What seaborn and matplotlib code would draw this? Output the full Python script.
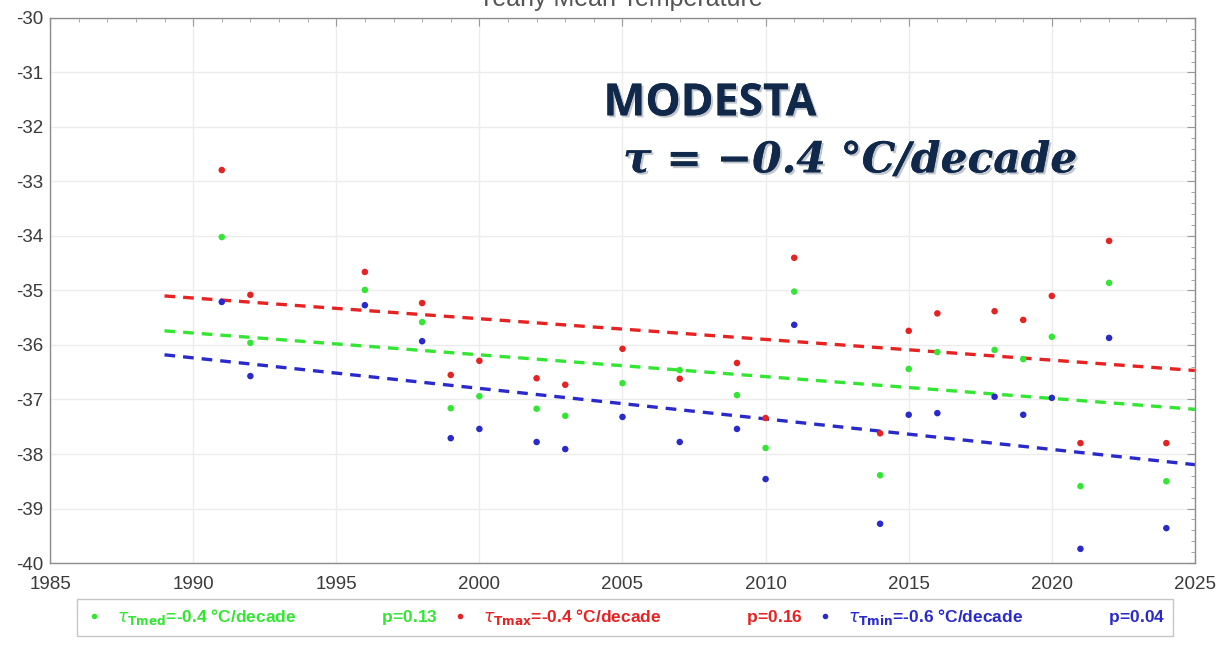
import numpy as np
import pandas as pd
import matplotlib
matplotlib.use("Agg")
import matplotlib.pyplot as plt
import matplotlib.patheffects as pe
from matplotlib.lines import Line2D
from matplotlib.ticker import MultipleLocator
import seaborn as sns

# Yearly mean air temperature at MODESTA (°C)
years = [1991, 1992, 1996, 1998, 1999, 2000, 2002, 2003, 2005, 2007, 2009,
         2010, 2011, 2014, 2015, 2016, 2018, 2019, 2020, 2021, 2022, 2024]
t_max = [-32.79, -35.08, -34.66, -35.23, -36.55, -36.29, -36.61, -36.73, -36.07, -36.62, -36.33,
         -37.34, -34.40, -37.62, -35.74, -35.42, -35.38, -35.54, -35.10, -37.80, -34.09, -37.80]
t_med = [-34.02, -35.96, -34.99, -35.58, -37.16, -36.94, -37.17, -37.30, -36.70, -36.46, -36.92,
         -37.89, -35.02, -38.39, -36.44, -36.13, -36.09, -36.26, -35.85, -38.59, -34.86, -38.50]
t_min = [-35.21, -36.57, -35.27, -35.93, -37.71, -37.54, -37.78, -37.91, -37.32, -37.78, -37.54,
         -38.46, -35.63, -39.28, -37.28, -37.25, -36.95, -37.28, -36.97, -39.74, -35.87, -39.36]

# Trend lines: value at 1989 and slope (°C/decade), with p-values
series_names = ["Tmed", "Tmax", "Tmin"]
trend_start = {"Tmed": -35.74, "Tmax": -35.10, "Tmin": -36.18}
trend_slope = {"Tmed": -0.40, "Tmax": -0.38, "Tmin": -0.56}
p_values = {"Tmed": 0.13, "Tmax": 0.16, "Tmin": 0.04}
trend_years = [1989, 2025]

colors = {"Tmed": "#33e633", "Tmax": "#e62222", "Tmin": "#2a2acc"}

sns.set_style("white")
plt.rcParams["font.family"] = ["Liberation Sans", "DejaVu Sans"]

df = pd.DataFrame({
    "year": years * 3,
    "temp": t_med + t_max + t_min,
    "series": ["Tmed"] * len(years) + ["Tmax"] * len(years) + ["Tmin"] * len(years),
})

trend_rows = []
for s in series_names:
    for y in trend_years:
        trend_rows.append({"year": y, "temp": trend_start[s] + trend_slope[s] * (y - trend_years[0]) / 10.0,
                           "series": s})
trend = pd.DataFrame(trend_rows)

fig = plt.figure(figsize=(12.29, 6.49), dpi=100)
ax = fig.add_axes([0.0407, 0.1325, 0.9316, 0.8398])

for s in series_names:
    sns.lineplot(data=trend[trend.series == s], x="year", y="temp", color=colors[s],
                 linewidth=2.4, ax=ax, dashes=False, zorder=2)
    ax.lines[-1].set_dashes([3.2, 2.4])
    sns.scatterplot(data=df[df.series == s], x="year", y="temp", color=colors[s],
                    s=22, edgecolor="none", ax=ax, zorder=3)

ax.set_xlim(1985, 2025)
ax.set_ylim(-40, -30)
ax.xaxis.set_major_locator(MultipleLocator(5))
ax.xaxis.set_minor_locator(MultipleLocator(1))
ax.yaxis.set_major_locator(MultipleLocator(1))
ax.yaxis.set_minor_locator(MultipleLocator(0.2))
ax.grid(True, which="major", color="#ececec", linewidth=1.0)
ax.set_axisbelow(True)
ax.tick_params(which="both", direction="in", top=True, right=True, colors="#9a9a9a",
               labelcolor="#3a3a3a", labelsize=13.5)
ax.tick_params(which="major", length=6, width=0.8)
ax.tick_params(which="minor", length=3, width=0.6)
ax.tick_params(axis="x", pad=9)
ax.tick_params(axis="y", pad=5)
for sp in ax.spines.values():
    sp.set_color("#8c8c8c")
    sp.set_linewidth(1.0)
ax.set_xlabel("")
ax.set_ylabel("")
ax.set_yticks(np.arange(-40, -29, 1))
ax.set_yticklabels([str(v) for v in range(-40, -29)])

# Chart title at the very top edge (runs past the figure border)
fig.text(0.505, 0.990, "Yearly Mean Temperature", ha="center", va="baseline",
         fontsize=18, color="#555555")

shadow = [pe.withSimplePatchShadow(offset=(1.5, -1.5), shadow_rgbFace="#9aa3ad", alpha=0.6),
          pe.Normal()]
fig.text(0.491, 0.840, "MODESTA", fontsize=32, fontweight="bold", color="#10294a",
         family=["Open Sans", "DejaVu Sans"], ha="left", va="center", path_effects=shadow)
fig.text(0.507, 0.753, "τ = −0.4 °C/decade", fontsize=30.5, fontweight="bold", fontstyle="italic",
         color="#10294a", family=["DejaVu Serif"], ha="left", va="center", path_effects=shadow)

handles, labels = [], []
for s in series_names:
    handles.append(Line2D([], [], linestyle="none", marker="o", markersize=4,
                          markerfacecolor=colors[s], markeredgecolor="none"))
    labels.append(r"$\tau_{\mathbf{%s}}$=%.1f °C/decade                  p=%.2f"
                  % (s, trend_slope[s], p_values[s]))
leg = fig.legend(handles, labels, loc="center", bbox_to_anchor=(0.5086, 0.049), ncol=3,
                 frameon=True, handlelength=1.0, handletextpad=0.8,
                 columnspacing=0.8, labelcolor=[colors[s] for s in series_names],
                 prop={"weight": "bold", "size": 12.5}, borderpad=0.5, fancybox=False)
leg.get_frame().set_edgecolor("#b8b8b8")
leg.get_frame().set_linewidth(1.0)

fig.savefig("out.png", dpi=100, facecolor="white")
